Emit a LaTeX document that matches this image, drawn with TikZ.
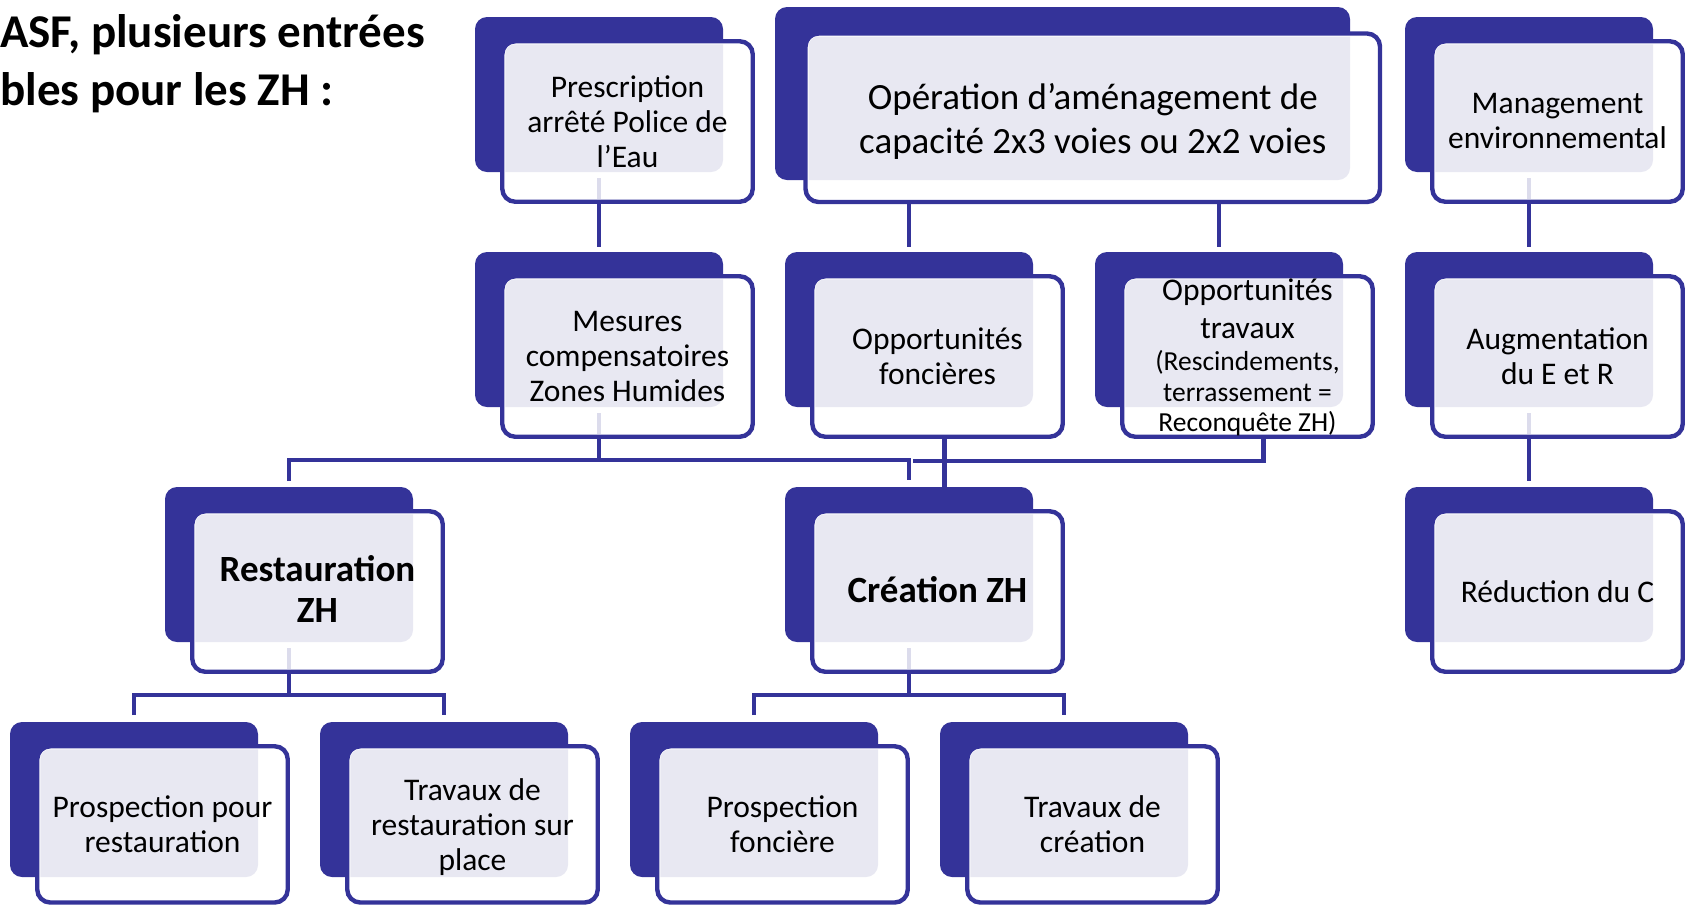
\documentclass[tikz,border=0pt]{standalone}
\usepackage{fontspec}
\setmainfont{Carlito}
\usetikzlibrary{fit,calc}
\definecolor{ink}{HTML}{343399}
\definecolor{lav}{HTML}{E8E8F2}
\definecolor{faintc}{HTML}{DCDCEC}
\newcommand\sm{\fontsize{27.5}{30.5}\selectfont}
\tikzset{
  back/.style={rectangle, inner sep=0, outer sep=0, rounded corners=12, fill=ink},
  front/.style={rectangle, inner sep=0, outer sep=0, rounded corners=13, draw=ink, line width=4.4, fill=white},
  txt/.style={inner sep=0, text width=250, align=flush center, text=black, font=\fontsize{31.5}{35}\selectfont},
  bigtxt/.style={txt, text width=570, font=\fontsize{37}{44}\selectfont},
  boldtxt/.style={txt, font=\bfseries\fontsize{37}{41}\selectfont},
  conn/.style={draw=ink, line width=4.8},
  faint/.style={draw=faintc, line width=4.8},
  title/.style={inner sep=0, anchor=base west, font=\bfseries\fontsize{47}{57}\selectfont}
}
\newcommand\zboxraw[9]{%
  \node[back, fit={({#2},{#3}) ({#4},{#5})}] (#1d) {};
  \node[front, fit={({#6},{#7}) ({#8},{#9})}] (#1f) {};
  \begin{scope}
    \clip[rounded corners=10] ($(#1f.north west)+(3,3)$) rectangle ($(#1f.south east)+(-3,-3)$);
    \fill[lav, rounded corners=12] (#1d.north west) rectangle (#1d.south east);
  \end{scope}}
\newcommand\zbox[4]{\zboxraw{#1}{#2}{#3}{#2+248}{#3+155}{#2+27.25}{#3+24.25}{#2+277.75}{#3+#4}}
\begin{document}
\begin{tikzpicture}[x=1pt, y=-1pt]
\useasboundingbox (0,0) rectangle (1690,906);

% title
\node[title] (title1) at (0,47) {ASF, plusieurs entrées};
\node[title] (title2) at (0,105) {bles pour les ZH :};

% boxes
\zbox{P}{475}{17}{184.75}
\zboxraw{O}{775}{7}{1350}{180}{805.5}{33.5}{1380}{202}
\zbox{G}{1405}{17}{184.75}
\zbox{M}{475}{252}{184.75}
\zbox{F}{785}{252}{184.75}
\zbox{T}{1095}{252}{184.75}
\zbox{A}{1405}{252}{184.75}
\zbox{S}{165}{487}{184.75}
\zbox{C}{785}{487}{184.75}
\zbox{R}{1405}{487}{184.75}
\zbox{PR}{10}{722}{180.5}
\zbox{TR}{320}{722}{180.5}
\zbox{PF}{630}{722}{180.5}
\zbox{TC}{940}{722}{180.5}

% faint connector traces inside boxes
\draw[faint] ($(Pd.south)+(0,6)$) -- ($(Pd.south |- Pf.south)+(0,-2.3)$);
\draw[faint] ($(Gd.south)+(0,6)$) -- ($(Gd.south |- Gf.south)+(0,-2.3)$);
\draw[faint] ($(Md.south)+(0,6)$) -- ($(Md.south |- Mf.south)+(0,-2.3)$);
\draw[faint] ($(Ad.south)+(0,6)$) -- ($(Ad.south |- Af.south)+(0,-2.3)$);
\draw[faint] ($(Sd.south)+(0,6)$) -- ($(Sd.south |- Sf.south)+(0,-2.3)$);
\draw[faint] ($(Cd.south)+(0,6)$) -- ($(Cd.south |- Cf.south)+(0,-2.3)$);

% texts
\node[txt] (Pt) at (Pf.center) {Prescription\\arrêté Police de\\l’Eau};
\node[bigtxt] (Ot) at ($(Of.center)+(0,4)$) {Opération d’aménagement de\\capacité 2x3 voies ou 2x2 voies};
\node[txt] (Gt) at (Gf.center) {Management\\environnemental};
\node[txt] (Mt) at (Mf.center) {Mesures\\compensatoires\\Zones Humides};
\node[txt] (Ft) at (Ff.center) {Opportunités\\foncières};
\node[txt] (Tt) at ($(Tf.center)+(0,1)$) {{Opportunités\\[3pt]travaux\\[1.5pt]\sm (Rescindements,\\terrassement =\\Reconquête ZH)\par}};
\node[txt] (At) at (Af.center) {Augmentation\\du E et R};
\node[boldtxt] (St) at ($(Sf.center)+(0,-3)$) {Restauration\\ZH};
\node[boldtxt] (Ct) at ($(Cf.center)+(0,-2)$) {Création ZH};
\node[txt] (Rt) at (Rf.center) {Réduction du C};
\node[txt] (PRt) at (PRf.center) {Prospection pour\\restauration};
\node[txt] (TRt) at ($(TRf.center)+(0,2.5)$) {Travaux de\\restauration sur\\place};
\node[txt] (PFt) at (PFf.center) {Prospection\\foncière};
\node[txt] (TCt) at (TCf.center) {Travaux de\\création};

% connectors
\draw[conn] (Pd.south |- Pf.south) -- ($(Md.north)+(0,-5)$);
\draw[conn] (Fd.north |- Of.south) -- ($(Fd.north)+(0,-5)$);
\draw[conn] (Td.north |- Of.south) -- ($(Td.north)+(0,-5)$);
\draw[conn] (Gd.south |- Gf.south) -- ($(Ad.north)+(0,-5)$);
\draw[conn] (Ad.south |- Af.south) -- ($(Rd.north)+(0,-6)$);

\coordinate (bus1) at (599,460);
\draw[conn] (Md.south |- Mf.south) -- (bus1);
\draw[conn] ($(Sd.north)+(0,-6)$) |- (bus1) -| ($(Cd.north)+(0,-7)$);

\coordinate (f1) at ($(Ff.south)+(7,0)$);
\draw[conn] (f1) -- (f1 |- Cd.north);
\coordinate (t1) at ($(Tf.south)+(16,0)$);
\coordinate (bus1b) at (913,461);
\draw[conn] (t1) |- (bus1b);

\coordinate (bus2) at (289,695);
\draw[conn] (Sd.south |- Sf.south) -- (bus2);
\draw[conn] ($(PRd.north)+(0,-7)$) |- (bus2) -| ($(TRd.north)+(0,-7)$);
\coordinate (bus3) at (909,695);
\draw[conn] (Cd.south |- Cf.south) -- (bus3);
\draw[conn] ($(PFd.north)+(0,-7)$) |- (bus3) -| ($(TCd.north)+(0,-7)$);
\end{tikzpicture}
\end{document}
